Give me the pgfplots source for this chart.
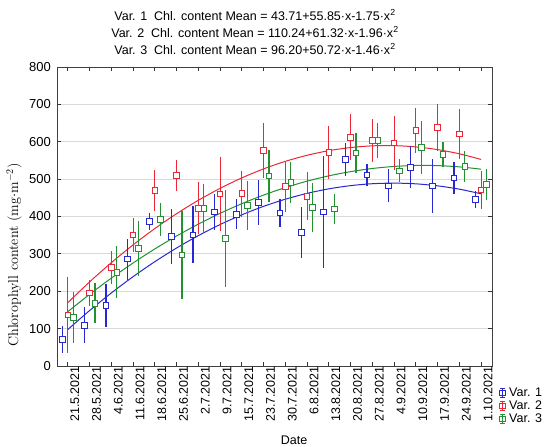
\documentclass[border=0pt]{standalone}
\usepackage{fontspec}
\setsansfont{Liberation Sans}
\usepackage{pgfplots}
\pgfplotsset{compat=1.18}
\usepackage{pgfplotstable}

\definecolor{cblue}{RGB}{40,40,210}
\definecolor{cred}{RGB}{235,40,55}
\definecolor{cgreen}{RGB}{35,145,50}

% x = date index (blue -0.25, red 0, green +0.25), y = mean, e = error
\pgfplotstableread{
x y e
0.75 71 37
1.75 109 48
2.75 162 58
3.75 286 55
4.75 387 23
5.75 346 74
6.75 351 76
7.75 412 47
8.75 406 40
9.75 437 61
10.75 409 38
11.75 358 68
12.75 412 150
13.75 552 44
14.75 511 30
15.75 482 44
16.75 532 57
17.75 482 72
18.75 503 43
19.75 446 22
}\varone
\pgfplotstableread{
x y e
1 137 102
2 195 34
3 264 44
4 351 46
5 470 55
6 510 42
7 422 69
8 460 98
9 461 62
10 577 74
11 480 67
12 454 64
13 572 71
14 612 61
15 603 57
16 597 72
17 630 60
18 638 62
19 621 67
20 471 50
}\vartwo
\pgfplotstableread{
x y e
1.25 130 69
2.25 168 54
3.25 251 69
4.25 315 73
5.25 392 44
6.25 297 117
7.25 422 65
8.25 342 130
9.25 429 66
10.25 509 70
11.25 491 54
12.25 424 66
13.25 420 41
14.25 570 53
15.25 603 47
16.25 522 31
17.25 585 70
18.25 566 33
19.25 534 41
20.25 486 41
}\varthree
% fitted curves (values of the equations in the title at each date)
\pgfplotstableread{
x a b c
1 97.81 169.60 145.46
2 148.41 225.04 191.80
3 195.51 276.56 235.22
4 239.11 324.16 275.72
5 279.21 367.84 313.30
6 315.81 407.60 347.96
7 348.91 443.44 379.70
8 378.51 475.36 408.52
9 404.61 503.36 434.42
10 427.21 527.44 457.40
11 446.31 547.60 477.46
12 461.91 563.84 494.60
13 474.01 576.16 508.82
14 482.61 584.56 520.12
15 487.71 589.04 528.50
16 489.31 589.60 533.96
17 487.41 586.24 536.50
18 482.01 578.96 536.12
19 473.11 567.76 532.82
20 460.71 552.64 526.60
}\fits

\newcommand{\fs}{\fontsize{12.5bp}{14bp}\selectfont}
\newcommand{\legicon}[1]{%
  \draw[#1, line width=1bp] (4bp,-4.5bp) -- (4bp,4.5bp);
  \draw[#1, line width=1bp] (1.5bp,-4.5bp) -- (6.5bp,-4.5bp);
  \draw[#1, line width=1bp] (1.5bp,4.5bp) -- (6.5bp,4.5bp);
  \draw[#1, line width=0.9bp] (1bp,-2.5bp) rectangle (7bp,2.5bp);
}

\begin{document}
\begin{tikzpicture}
\path[use as bounding box] (0,0) rectangle (550bp,447bp);
\begin{axis}[
  at={(57bp,81bp)}, anchor=south west,
  width=435bp, height=299bp, scale only axis,
  xmin=0.5, xmax=20.5, ymin=0, ymax=800,
  xtick={1,...,20},
  xticklabels={21.5.2021,28.5.2021,4.6.2021,11.6.2021,18.6.2021,25.6.2021,2.7.2021,9.7.2021,15.7.2021,23.7.2021,30.7.2021,6.8.2021,13.8.2021,20.8.2021,27.8.2021,4.9.2021,10.9.2021,17.9.2021,24.9.2021,1.10.2021},
  ytick={0,100,...,800},
  tick align=inside,
  major tick length=4bp,
  tick style={black!80, line width=0.8bp},
  axis line style={black!75, line width=1bp},
  ymajorgrids, grid style={gray!30, line width=0.8bp},
  /pgf/number format/assume math mode=true,
  xticklabel style={rotate=90, anchor=east, font=\sffamily\fs, inner sep=0pt, yshift=-7bp},
  yticklabel style={font=\sffamily\fontsize{13bp}{15bp}\selectfont, inner sep=0pt, xshift=-6bp},
  legend style={at={(1.016,-0.072)}, anchor=north west, draw=none, fill=none,
    font=\sffamily\fs, row sep=1.5bp, column sep=2.5bp, inner sep=0pt,
    nodes={inner sep=0.6bp}},
  legend cell align=left,
]
\addplot[cblue, line width=1bp, smooth, forget plot] table[x=x, y=a] {\fits};
\addplot[cred, line width=1bp, smooth, forget plot] table[x=x, y=b] {\fits};
\addplot[cgreen, line width=1bp, smooth, forget plot] table[x=x, y=c] {\fits};

\addplot[cblue, only marks, mark=square*, mark size=2.8bp,
  mark options={fill=white, line width=0.9bp},
  legend image code/.code={\legicon{cblue}},
  error bars/.cd, y dir=both, y explicit, error mark=none,
  error bar style={line width=1.2bp, cblue}]
  table[x=x, y=y, y error=e] {\varone};
\addlegendentry{Var. 1}
\addplot[cred, only marks, mark=square*, mark size=2.8bp,
  mark options={fill=white, line width=0.9bp},
  legend image code/.code={\legicon{cred}},
  error bars/.cd, y dir=both, y explicit, error mark=none,
  error bar style={line width=1.2bp, cred}]
  table[x=x, y=y, y error=e] {\vartwo};
\addlegendentry{Var. 2}
\addplot[cgreen, only marks, mark=square*, mark size=2.8bp,
  mark options={fill=white, line width=0.9bp},
  legend image code/.code={\legicon{cgreen}},
  error bars/.cd, y dir=both, y explicit, error mark=none,
  error bar style={line width=1.2bp, cgreen}]
  table[x=x, y=y, y error=e] {\varthree};
\addlegendentry{Var. 3}
\end{axis}
\node[font=\sffamily\fs] at (255bp,432bp) {Var. 1\ \ Chl. content Mean = 43.71+55.85·x-1.75·x\textsuperscript{2}};
\node[font=\sffamily\fs] at (255bp,415bp) {Var. 2\ \ Chl. content Mean = 110.24+61.32·x-1.96·x\textsuperscript{2}};
\node[font=\sffamily\fs] at (255bp,398bp) {Var. 3\ \ Chl. content Mean = 96.20+50.72·x-1.46·x\textsuperscript{2}};
\node[font=\sffamily\fs] at (294bp,7bp) {Date};
\node[font=\fontsize{14.2bp}{16bp}\selectfont, rotate=90] at (14bp,192bp) {Chlorophyll content (mg$\cdot$m$^{-2}$)};
\end{tikzpicture}
\end{document}
